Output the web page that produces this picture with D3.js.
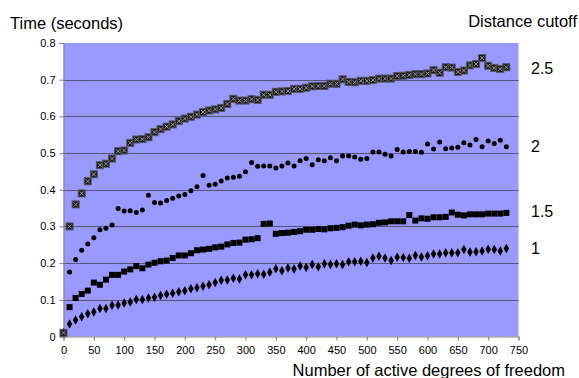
<!DOCTYPE html>
<html><head><meta charset="utf-8">
<script src="https://cdn.jsdelivr.net/npm/d3@7"></script>
<style>body{margin:0;background:#fff;}svg{display:block;font-family:"Liberation Sans",Arial,sans-serif;}</style>
</head><body><svg id="c" width="579" height="378"></svg>
<script>
const dof = d3.range(0, 740, 10);
const s25 = [0.01,0.30,0.36,0.39,0.423,0.442,0.467,0.471,0.485,0.505,0.507,0.528,0.537,0.538,0.543,0.557,0.565,0.572,0.578,0.587,0.594,0.599,0.605,0.612,0.616,0.619,0.623,0.634,0.648,0.643,0.643,0.647,0.645,0.659,0.659,0.667,0.668,0.669,0.675,0.675,0.678,0.682,0.683,0.683,0.689,0.689,0.701,0.694,0.693,0.697,0.697,0.699,0.703,0.703,0.703,0.710,0.711,0.713,0.715,0.715,0.717,0.726,0.719,0.734,0.733,0.721,0.725,0.739,0.743,0.759,0.738,0.732,0.729,0.734];
const s2 = [0.01,0.176,0.21,0.235,0.252,0.269,0.291,0.295,0.304,0.349,0.342,0.343,0.338,0.345,0.385,0.365,0.364,0.371,0.377,0.383,0.387,0.397,0.408,0.439,0.412,0.415,0.424,0.432,0.434,0.437,0.449,0.474,0.464,0.465,0.465,0.459,0.465,0.473,0.465,0.479,0.485,0.468,0.482,0.479,0.487,0.479,0.492,0.492,0.489,0.483,0.485,0.503,0.503,0.497,0.492,0.51,0.503,0.504,0.504,0.502,0.525,0.511,0.53,0.512,0.514,0.516,0.528,0.522,0.537,0.517,0.533,0.526,0.535,0.517];
const s15 = [0.01,0.08,0.105,0.116,0.125,0.147,0.141,0.155,0.168,0.168,0.177,0.183,0.192,0.186,0.196,0.201,0.205,0.207,0.214,0.221,0.221,0.227,0.235,0.237,0.239,0.243,0.245,0.251,0.255,0.256,0.264,0.265,0.268,0.307,0.308,0.28,0.282,0.283,0.285,0.287,0.291,0.291,0.293,0.292,0.295,0.296,0.298,0.302,0.305,0.303,0.305,0.306,0.31,0.311,0.314,0.314,0.314,0.331,0.316,0.322,0.321,0.325,0.325,0.326,0.338,0.332,0.33,0.333,0.333,0.333,0.335,0.335,0.335,0.337];
const s1 = [0.01,0.034,0.045,0.054,0.062,0.067,0.076,0.076,0.085,0.086,0.091,0.094,0.101,0.101,0.105,0.107,0.112,0.115,0.118,0.122,0.125,0.130,0.133,0.137,0.141,0.147,0.153,0.154,0.159,0.157,0.168,0.168,0.171,0.17,0.175,0.185,0.179,0.187,0.184,0.192,0.188,0.196,0.19,0.198,0.196,0.198,0.196,0.204,0.204,0.205,0.202,0.214,0.219,0.214,0.207,0.216,0.215,0.213,0.221,0.217,0.22,0.225,0.225,0.228,0.228,0.228,0.237,0.23,0.231,0.233,0.238,0.237,0.233,0.24];
const seriesNames = ["2.5","2","1.5","1"];
const xTicks = d3.range(0, 800, 50);
const yTicks = [0,0.1,0.2,0.3,0.4,0.5,0.6,0.7,0.8];

const svg = d3.select("#c");
const x = d3.scaleLinear().domain([0,750]).range([63.5,518.5]);
const y = d3.scaleLinear().domain([0,0.8]).range([336.5,43]);

svg.append("rect").attr("x",x(0)).attr("y",y(0.8)).attr("width",x(750)-x(0)).attr("height",y(0)-y(0.8)).attr("fill","#9999ff");
svg.append("g").selectAll("line").data(yTicks.filter(v=>v>0&&v<0.8)).join("line")
  .attr("x1",x(0)).attr("x2",x(750)).attr("y1",d=>Math.round(y(d))+0.5).attr("y2",d=>Math.round(y(d))+0.5)
  .attr("stroke","#55557a").attr("stroke-width",1);

const yAxis = svg.append("g").attr("transform",`translate(${x(0)},0)`)
  .call(d3.axisLeft(y).tickValues(yTicks).tickFormat(d=>d===0?"0":d3.format(".1f")(d)).tickSize(4).tickPadding(4));
const xAxis = svg.append("g").attr("transform",`translate(0,${y(0)})`)
  .call(d3.axisBottom(x).tickValues(xTicks).tickFormat(d3.format("d")).tickSize(4).tickPadding(6));
[yAxis,xAxis].forEach(a=>{
  a.select(".domain").attr("stroke","#808080");
  a.selectAll(".tick line").attr("stroke","#808080");
  a.selectAll("text").attr("fill","#000").style("font-size","11px").style("font-family","Liberation Sans, Arial, sans-serif");
});

const pts = arr => arr.map((v,i)=>({x:dof[i], y:v}));
const g = svg.append("g");
// 1.5 filled squares
g.append("g").selectAll("rect").data(pts(s15)).join("rect")
  .attr("x",d=>x(d.x)-3).attr("y",d=>y(d.y)-3).attr("width",6).attr("height",6).attr("fill","#000");
// 1 diamonds
g.append("g").selectAll("path").data(pts(s1)).join("path")
  .attr("d",d3.symbol(d3.symbolDiamond,26)).attr("transform",d=>`translate(${x(d.x)},${y(d.y)})`).attr("fill","#000");
// 2 circles
g.append("g").selectAll("circle").data(pts(s2)).join("circle")
  .attr("cx",d=>x(d.x)).attr("cy",d=>y(d.y)).attr("r",2.5).attr("fill","#000");
// 2.5 crossed squares
const cs = g.append("g").selectAll("g").data(pts(s25)).join("g").attr("transform",d=>`translate(${x(d.x)},${y(d.y)})`);
cs.append("rect").attr("x",-3.5).attr("y",-3.5).attr("width",7).attr("height",7).attr("fill","#1a1a1a").attr("stroke","#555566").attr("stroke-width",1);
cs.append("path").attr("d","M-2,-2L2,2M2,-2L-2,2").attr("stroke","#aaaaaa").attr("stroke-width",0.9);

svg.append("text").attr("x",10).attr("y",29).text("Time (seconds)").style("font-size","16.5px");
svg.append("text").attr("x",577).attr("y",27).attr("text-anchor","end").text("Distance cutoff").style("font-size","16.5px");
svg.append("text").attr("x",565).attr("y",376).attr("text-anchor","end").text("Number of active degrees of freedom").style("font-size","16.5px");
const labY = [74,152,217,254];
svg.append("g").selectAll("text").data(seriesNames).join("text")
  .attr("x",531).attr("y",(d,i)=>labY[i]).text(d=>d).style("font-size","16px");
</script></body></html>
